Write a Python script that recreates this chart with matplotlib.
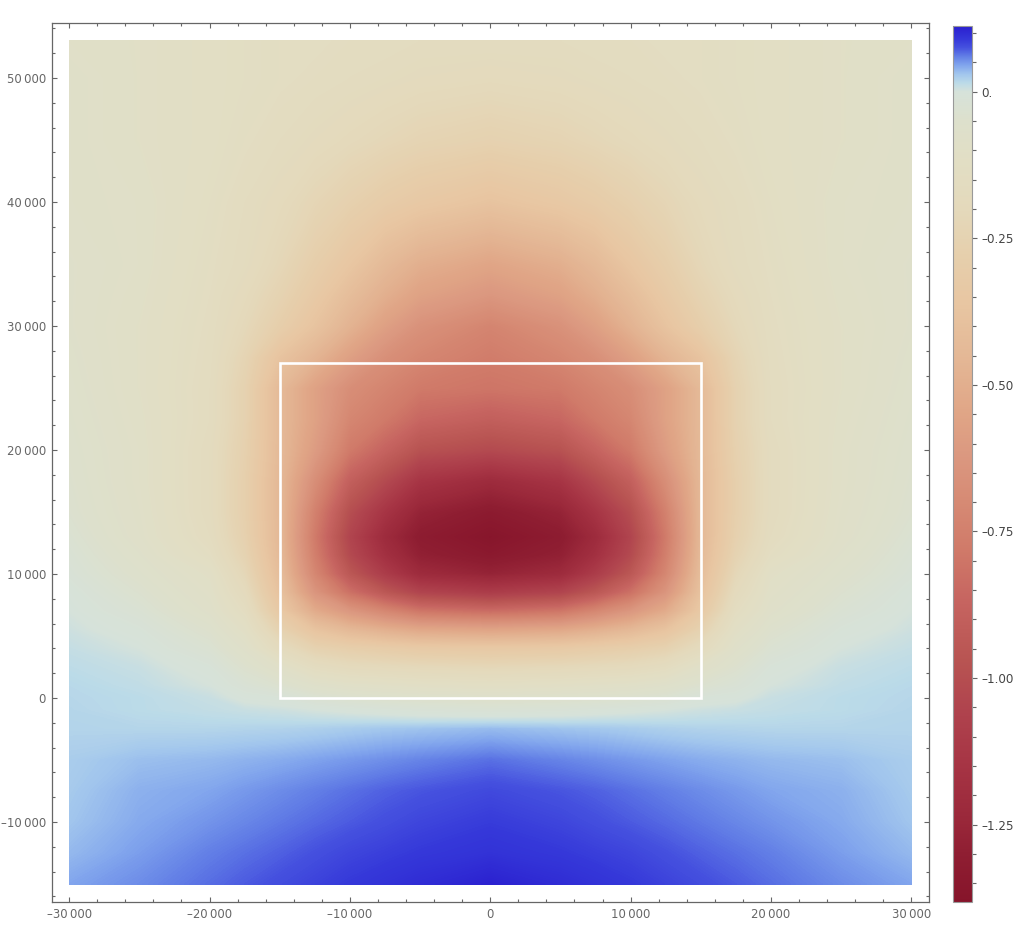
import numpy as np
import matplotlib
matplotlib.use("Agg")
import matplotlib.pyplot as plt
from matplotlib.colors import LinearSegmentedColormap, Normalize
from matplotlib.patches import Rectangle
from matplotlib.ticker import MultipleLocator, FixedLocator

# grid positions
x_vals = [-30000, -25000, -20000, -17500, -15000, -12500, -10000, -7500, -5000, 0,
          5000, 7500, 10000, 12500, 15000, 17500, 20000, 25000, 30000]
y_vals = [-15000, -12500, -10000, -7500, -5000, -2500, -1000, 0, 1000, 2500,
          4000, 5500, 7000, 8500, 10000, 11500, 13000, 15000, 17500, 20000,
          22500, 25000, 27500, 30000, 32500, 35000, 40000, 45000, 50000, 53000]

# field values, one row per y value
field = [
    [0.045, 0.055, 0.066, 0.072, 0.078, 0.084, 0.090, 0.095, 0.100, 0.110, 0.100, 0.095, 0.090, 0.084, 0.078, 0.072, 0.066, 0.055, 0.045],
    [0.036, 0.048, 0.060, 0.065, 0.070, 0.076, 0.082, 0.086, 0.090, 0.095, 0.090, 0.086, 0.082, 0.076, 0.070, 0.065, 0.060, 0.048, 0.036],
    [0.030, 0.043, 0.052, 0.057, 0.062, 0.067, 0.072, 0.077, 0.082, 0.088, 0.082, 0.077, 0.072, 0.067, 0.062, 0.057, 0.052, 0.043, 0.030],
    [0.027, 0.040, 0.045, 0.050, 0.055, 0.060, 0.065, 0.070, 0.074, 0.080, 0.074, 0.070, 0.065, 0.060, 0.055, 0.050, 0.045, 0.040, 0.027],
    [0.025, 0.033, 0.036, 0.039, 0.042, 0.046, 0.050, 0.054, 0.058, 0.065, 0.058, 0.054, 0.050, 0.046, 0.042, 0.039, 0.036, 0.033, 0.025],
    [0.020, 0.019, 0.019, 0.020, 0.021, 0.023, 0.026, 0.029, 0.031, 0.035, 0.031, 0.029, 0.026, 0.023, 0.021, 0.020, 0.019, 0.019, 0.020],
    [0.019, 0.015, 0.011, 0.008, 0.005, 0.000, -0.005, -0.010, -0.015, -0.020, -0.015, -0.010, -0.005, 0.000, 0.005, 0.008, 0.011, 0.015, 0.019],
    [0.018, 0.015, 0.008, -0.005, -0.010, -0.030, -0.040, -0.048, -0.053, -0.060, -0.053, -0.048, -0.040, -0.030, -0.010, -0.005, 0.008, 0.015, 0.018],
    [0.017, 0.012, 0.000, -0.020, -0.040, -0.070, -0.090, -0.100, -0.110, -0.120, -0.110, -0.100, -0.090, -0.070, -0.040, -0.020, 0.000, 0.012, 0.017],
    [0.014, 0.008, -0.010, -0.045, -0.090, -0.160, -0.190, -0.200, -0.210, -0.220, -0.210, -0.200, -0.190, -0.160, -0.090, -0.045, -0.010, 0.008, 0.014],
    [0.010, 0.000, -0.030, -0.075, -0.180, -0.260, -0.290, -0.310, -0.330, -0.340, -0.330, -0.310, -0.290, -0.260, -0.180, -0.075, -0.030, 0.000, 0.010],
    [0.005, -0.010, -0.050, -0.110, -0.260, -0.380, -0.450, -0.500, -0.540, -0.560, -0.540, -0.500, -0.450, -0.380, -0.260, -0.110, -0.050, -0.010, 0.005],
    [0.000, -0.025, -0.075, -0.150, -0.340, -0.520, -0.630, -0.720, -0.800, -0.840, -0.800, -0.720, -0.630, -0.520, -0.340, -0.150, -0.075, -0.025, 0.000],
    [-0.005, -0.040, -0.090, -0.185, -0.390, -0.640, -0.820, -0.950, -1.050, -1.100, -1.050, -0.950, -0.820, -0.640, -0.390, -0.185, -0.090, -0.040, -0.005],
    [-0.015, -0.055, -0.105, -0.220, -0.420, -0.720, -0.950, -1.100, -1.220, -1.270, -1.220, -1.100, -0.950, -0.720, -0.420, -0.220, -0.105, -0.055, -0.015],
    [-0.022, -0.068, -0.140, -0.250, -0.440, -0.760, -1.020, -1.180, -1.290, -1.340, -1.290, -1.180, -1.020, -0.760, -0.440, -0.250, -0.140, -0.068, -0.022],
    [-0.030, -0.080, -0.160, -0.270, -0.450, -0.780, -1.050, -1.220, -1.320, -1.370, -1.320, -1.220, -1.050, -0.780, -0.450, -0.270, -0.160, -0.080, -0.030],
    [-0.040, -0.085, -0.170, -0.280, -0.450, -0.750, -1.000, -1.150, -1.270, -1.330, -1.270, -1.150, -1.000, -0.750, -0.450, -0.280, -0.170, -0.085, -0.040],
    [-0.045, -0.090, -0.170, -0.280, -0.450, -0.680, -0.900, -1.020, -1.150, -1.220, -1.150, -1.020, -0.900, -0.680, -0.450, -0.280, -0.170, -0.090, -0.045],
    [-0.050, -0.090, -0.170, -0.270, -0.440, -0.600, -0.780, -0.880, -0.980, -1.020, -0.980, -0.880, -0.780, -0.600, -0.440, -0.270, -0.170, -0.090, -0.050],
    [-0.055, -0.095, -0.160, -0.260, -0.440, -0.570, -0.720, -0.780, -0.860, -0.900, -0.860, -0.780, -0.720, -0.570, -0.440, -0.260, -0.160, -0.095, -0.055],
    [-0.060, -0.100, -0.160, -0.260, -0.440, -0.570, -0.680, -0.730, -0.780, -0.800, -0.780, -0.730, -0.680, -0.570, -0.440, -0.260, -0.160, -0.100, -0.060],
    [-0.065, -0.100, -0.155, -0.240, -0.380, -0.470, -0.580, -0.670, -0.720, -0.770, -0.720, -0.670, -0.580, -0.470, -0.380, -0.240, -0.155, -0.100, -0.065],
    [-0.070, -0.100, -0.150, -0.210, -0.290, -0.380, -0.480, -0.580, -0.660, -0.730, -0.660, -0.580, -0.480, -0.380, -0.290, -0.210, -0.150, -0.100, -0.070],
    [-0.070, -0.095, -0.145, -0.190, -0.250, -0.330, -0.420, -0.500, -0.570, -0.630, -0.570, -0.500, -0.420, -0.330, -0.250, -0.190, -0.145, -0.095, -0.070],
    [-0.070, -0.090, -0.140, -0.170, -0.220, -0.290, -0.360, -0.440, -0.500, -0.550, -0.500, -0.440, -0.360, -0.290, -0.220, -0.170, -0.140, -0.090, -0.070],
    [-0.080, -0.090, -0.130, -0.160, -0.190, -0.230, -0.270, -0.310, -0.340, -0.380, -0.340, -0.310, -0.270, -0.230, -0.190, -0.160, -0.130, -0.090, -0.080],
    [-0.080, -0.100, -0.120, -0.140, -0.160, -0.180, -0.200, -0.220, -0.240, -0.260, -0.240, -0.220, -0.200, -0.180, -0.160, -0.140, -0.120, -0.100, -0.080],
    [-0.080, -0.100, -0.120, -0.130, -0.140, -0.150, -0.160, -0.170, -0.180, -0.190, -0.180, -0.170, -0.160, -0.150, -0.140, -0.130, -0.120, -0.100, -0.080],
    [-0.090, -0.100, -0.120, -0.130, -0.140, -0.140, -0.150, -0.150, -0.160, -0.160, -0.160, -0.150, -0.150, -0.140, -0.140, -0.130, -0.120, -0.100, -0.090],
]

# colour stops of the legend bar (value, colour)
cmap_values = [-1.382, -1.30, -1.24, -1.15, -1.05, -0.97, -0.87, -0.78, -0.70,
               -0.62, -0.55, -0.45, -0.36, -0.28, -0.20, -0.12, -0.05, 0.0,
               0.015, 0.03, 0.045, 0.06, 0.075, 0.09, 0.112]
cmap_colors = ["#86142a", "#8f1e32", "#9a283a", "#a63444", "#b0444e", "#b85452",
               "#c66460", "#d07a69", "#d68a74", "#db9880", "#e0a586", "#e4b896",
               "#e8c6a2", "#e6cfac", "#e4d9bb", "#e2dec4", "#dde0cc", "#d6e2da",
               "#bcdbe8", "#a2c6ed", "#82a6ed", "#6380e6", "#4652df", "#3538d9",
               "#2a1fcf"]

cbar_ticks = [0.0, -0.25, -0.5, -0.75, -1.0, -1.25]
cbar_labels = ["0.", "\u20130.25", "\u20130.50", "\u20130.75", "\u20131.00", "\u20131.25"]

box_x = [-15000, 15000]
box_y = [0, 27000]

vmin, vmax = cmap_values[0], cmap_values[-1]
pos = [(v - vmin) / (vmax - vmin) for v in cmap_values]
cmap = LinearSegmentedColormap.from_list("thermo", list(zip(pos, cmap_colors)), N=4096)
norm = Normalize(vmin=vmin, vmax=vmax)

gray = "#666666"
fig = plt.figure(figsize=(10.23, 9.47), dpi=100)
ax = fig.add_axes([0.0505, 0.0475, 0.8575, 0.9282])

X, Y = np.meshgrid(x_vals, y_vals)
# more levels in the narrow blue part of the scale
levels = np.unique(np.concatenate([np.linspace(vmin, -0.1, 260),
                                   np.linspace(-0.1, vmax, 260)]))
ax.contourf(X, Y, np.array(field), levels=levels, cmap=cmap, norm=norm)

ax.add_patch(Rectangle((box_x[0], box_y[0]), box_x[1] - box_x[0], box_y[1] - box_y[0],
                       fill=False, edgecolor="white", linewidth=1.9))

ax.set_xlim(-31250, 31250)
ax.set_ylim(-16450, 54440)

# frame ticks, Mathematica style
ax.xaxis.set_minor_locator(MultipleLocator(2000))
ax.yaxis.set_minor_locator(MultipleLocator(2000))


def fmt(v):
    s = f"{abs(int(v))}"
    if len(s) > 3:
        s = s[:-3] + "\u2009" + s[-3:]
    return ("\u2013" if v < 0 else "") + s


xt = list(range(-30000, 30001, 10000))
yt = list(range(-10000, 50001, 10000))
ax.set_xticks(xt)
ax.set_xticklabels([fmt(v) for v in xt])
ax.set_yticks(yt)
ax.set_yticklabels([fmt(v) for v in yt])
ax.tick_params(which="both", direction="in", top=True, right=True, colors=gray,
               labelcolor=gray, labelsize=8.4, width=0.8)
ax.tick_params(which="major", length=3.5, pad=4)
ax.tick_params(which="minor", length=2.2)
for s in ax.spines.values():
    s.set_color(gray)
    s.set_linewidth(0.9)

# legend bar
cax = fig.add_axes([0.9316, 0.0475, 0.019, 0.925])
sm = plt.cm.ScalarMappable(norm=norm, cmap=cmap)
cb = fig.colorbar(sm, cax=cax, ticks=cbar_ticks)
cb.ax.set_yticklabels(cbar_labels)
cb.ax.yaxis.set_minor_locator(FixedLocator(np.arange(-1.35, 0.11, 0.05)))
cb.ax.tick_params(which="both", colors=gray, labelcolor="#444444", labelsize=8.6, width=0.8)
cb.ax.tick_params(which="major", length=3.5, pad=3)
cb.ax.tick_params(which="minor", length=3)
cb.outline.set_edgecolor("#999999")
cb.outline.set_linewidth(0.8)

fig.savefig("out.png", dpi=100)
